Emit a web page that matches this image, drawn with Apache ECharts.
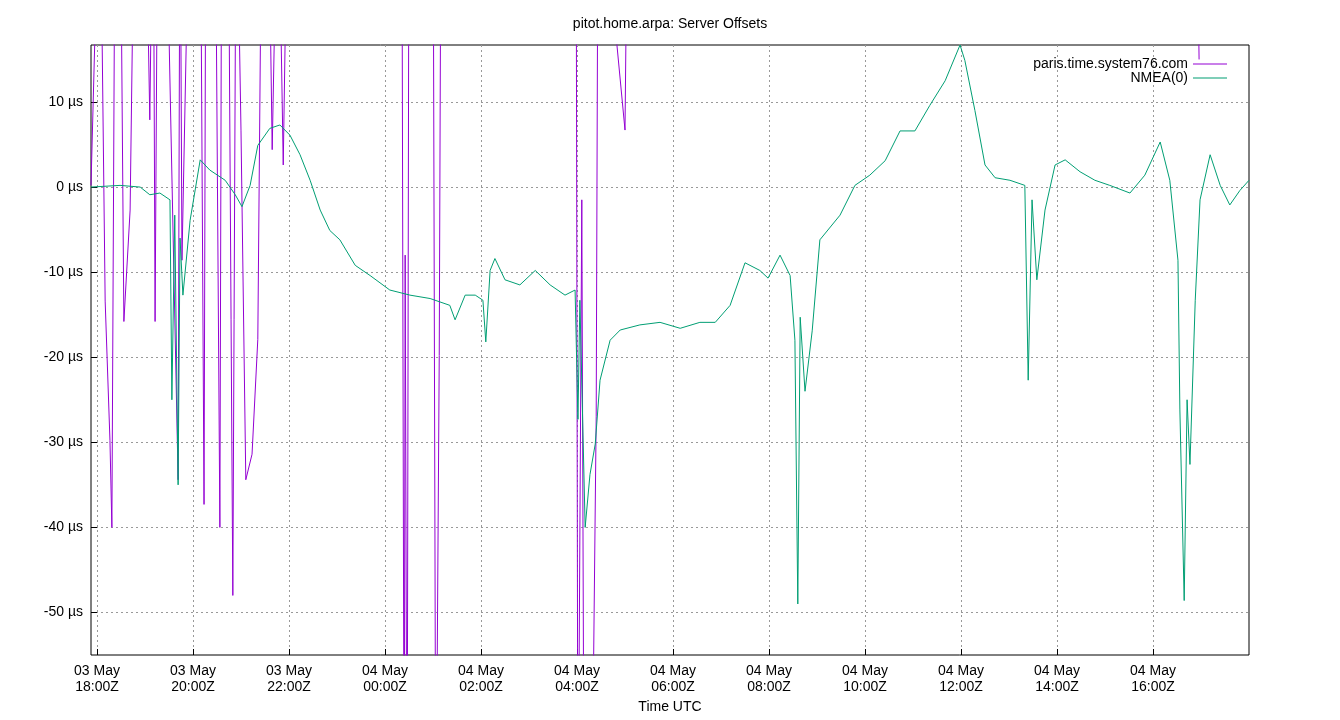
<!DOCTYPE html>
<html><head><meta charset="utf-8">
<script src="https://cdn.jsdelivr.net/npm/echarts@6/dist/echarts.min.js"></script>
<style>html,body{margin:0;background:#fff}#c{width:1340px;height:720px}</style>
</head><body><div id="c"></div>
<script>
// hours since 03 May 18:00Z ; offsets in µs
const nmeaT = [-0.125,0.48,0.9,1.1,1.31,1.52,1.56,1.62,1.69,1.73,1.79,1.94,2.15,2.35,2.67,2.88,3.02,3.19,3.35,3.6,3.81,4.02,4.23,4.44,4.65,4.85,5.06,5.38,5.69,6.1,6.52,6.94,7.35,7.46,7.67,7.88,8.04,8.1,8.19,8.29,8.5,8.81,9.13,9.44,9.75,9.96,10.02,10.06,10.17,10.27,10.38,10.48,10.69,10.9,11.31,11.73,12.15,12.56,12.88,13.19,13.5,13.81,13.98,14.23,14.44,14.54,14.6,14.65,14.75,14.9,15.06,15.48,15.79,16.1,16.42,16.73,17.04,17.35,17.67,17.98,18.08,18.29,18.5,18.71,19.02,19.33,19.4,19.48,19.58,19.75,19.96,20.17,20.48,20.79,21.1,21.52,21.83,22.15,22.35,22.52,22.56,22.65,22.71,22.77,22.88,22.98,23.19,23.4,23.6,23.81,24.0];
const nmeaV = [0,0.2,0,-0.9,-0.7,-1.5,-25,-3.3,-35,-6,-12.7,-3.9,3.2,2,0.8,-0.9,-2.3,0.2,4.9,6.9,7.3,6.1,3.8,0.8,-2.7,-5.1,-6.2,-9.2,-10.4,-12.1,-12.7,-13.1,-13.9,-15.6,-12.7,-12.7,-13.3,-18.2,-9.8,-8.4,-10.9,-11.5,-9.8,-11.5,-12.7,-12.1,-27.3,-13.3,-40,-33.8,-30.2,-22.7,-18,-16.8,-16.2,-15.9,-16.6,-15.9,-15.9,-13.9,-8.9,-9.8,-10.7,-8,-10.4,-18,-49,-15.3,-24,-16.9,-6.2,-3.3,0.2,1.4,3.1,6.6,6.6,9.6,12.5,16.7,14.9,9,2.6,1.1,0.8,0.2,-22.7,-1.5,-10.9,-2.7,2.6,3.2,1.8,0.8,0.2,-0.7,1.4,5.3,0.8,-8.6,-26.2,-48.6,-25,-32.6,-13.3,-1.5,3.8,0.2,-2.1,-0.4,0.8];
const parisT = [-0.125,0.06,0.17,0.27,0.31,0.38,0.48,0.56,0.69,0.79,0.9,1.0,1.1,1.17,1.21,1.27,1.42,1.69,1.73,1.77,1.94,2.15,2.23,2.27,2.46,2.56,2.6,2.73,2.83,2.9,3.0,3.1,3.23,3.35,3.44,3.56,3.65,3.77,3.88,3.98,6.35,6.4,6.42,6.46,6.5,7.0,7.06,7.13,7.17,9.98,10.02,10.1,10.15,10.3,10.4,10.44,11.0,11.06,11.5,11.6,22.9,22.96];
const parisV = [0.2,40,-13.4,-29.8,-40,40,40,-15.8,-2.7,40,40,40,7.9,40,-15.8,40,40,-34.4,40,-8.6,40,40,-37.3,40,40,-40,40,40,-48,40,6.6,-34.4,-31.4,-17.9,40,40,4.4,40,2.6,40,40,-80,-8,-80,40,40,-80,-19.8,40,40,-80,-1.5,-80,-80,-27,40,6.7,40,40,null,40,15];
const xTicks = [0,2,4,6,8,10,12,14,16,18,20,22];
const xLabels = ['03 May\n18:00Z','03 May\n20:00Z','03 May\n22:00Z','04 May\n00:00Z','04 May\n02:00Z','04 May\n04:00Z','04 May\n06:00Z','04 May\n08:00Z','04 May\n10:00Z','04 May\n12:00Z','04 May\n14:00Z','04 May\n16:00Z'];
const yTicks = [-50,-40,-30,-20,-10,0,10];

const chart = echarts.init(document.getElementById('c'));
const font = 'Liberation Sans, Arial, sans-serif';
chart.setOption({
  animation:false,
  title:{text:'pitot.home.arpa: Server Offsets',left:'center',top:12,textStyle:{fontFamily:font,fontSize:14,fontWeight:'normal',color:'#000'}},
  legend:{right:108,top:52,orient:'vertical',align:'right',itemWidth:34,itemHeight:1,itemGap:0,icon:'rect',
    textStyle:{fontFamily:font,fontSize:14,color:'#000',lineHeight:13,height:13},data:['paris.time.system76.com','NMEA(0)']},
  grid:{left:91,right:91,top:45,bottom:65,show:true,borderColor:'#000',borderWidth:1},
  xAxis:{type:'value',min:-0.125,max:24.0,name:'Time UTC',nameLocation:'middle',nameGap:45,
    nameTextStyle:{fontFamily:font,fontSize:14,color:'#000'},
    axisLine:{show:false,onZero:false},
    axisTick:{inside:true,length:6,lineStyle:{color:'#000'},customValues:xTicks},
    axisLabel:{fontFamily:font,fontSize:14,color:'#000',lineHeight:16,customValues:xTicks,
      formatter:v=>xLabels[Math.round(v/2)]},
    splitLine:{show:true,lineStyle:{color:'#999',type:[2,3],width:1}}},
  yAxis:{type:'value',min:-55,max:16.7,
    axisLine:{show:false,onZero:false},
    axisTick:{inside:true,length:6,lineStyle:{color:'#000'},customValues:yTicks},
    axisLabel:{fontFamily:font,fontSize:14,color:'#000',customValues:yTicks,formatter:v=>v+' µs'},
    splitLine:{show:true,lineStyle:{color:'#999',type:[2,3],width:1}}},
  series:[
    {name:'paris.time.system76.com',type:'line',data:parisT.map((t,i)=>[t,parisV[i]]),symbol:'none',clip:true,connectNulls:false,
      lineStyle:{color:'#9400d3',width:1},itemStyle:{color:'#9400d3'}},
    {name:'NMEA(0)',type:'line',data:nmeaT.map((t,i)=>[t,nmeaV[i]]),symbol:'none',clip:true,
      lineStyle:{color:'#009e73',width:1},itemStyle:{color:'#009e73'}}
  ]
});
</script></body></html>
